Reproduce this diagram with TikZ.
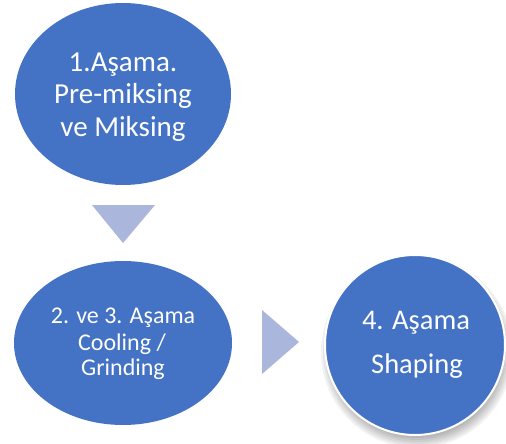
\documentclass[tikz,border=0pt]{standalone}
\usepackage{fontspec}
\setmainfont{Carlito}
\usetikzlibrary{shapes.geometric}
\definecolor{mainblue}{RGB}{68,114,196}
\definecolor{arrowblue}{RGB}{170,182,220}
\begin{document}
\begin{tikzpicture}[x=1pt,y=-1pt,
  stage/.style={fill=mainblue, draw=none, inner sep=0pt},
  lbl/.style={text=white, anchor=base, inner sep=0pt},
  big/.style={font=\fontsize{29}{32}\selectfont},
  mid/.style={font=\fontsize{24}{26}\selectfont},
  arr/.style={fill=arrowblue, draw=none}]
\useasboundingbox (0,0) rectangle (506,444);
\fill[white] (0,0) rectangle (506,444);
% stage 1
\node[stage, ellipse, minimum width=216pt, minimum height=182pt] (s1) at (123,94) {};
\node[lbl, big] (s1a) at (123,72) {1.Aşama.};
\node[lbl, big] (s1b) at (123,103) {Pre-miksing};
\node[lbl, big] (s1c) at (123,136) {ve Miksing};
% stage 2
\node[stage, ellipse, minimum width=218pt, minimum height=164pt] (s2) at (123,343) {};
\node[lbl, mid] (s2a) at (123,323) {2. ve 3. Aşama};
\node[lbl, mid] (s2b) at (122,350) {Cooling /};
\node[lbl, mid] (s2c) at (123,375) {Grinding};
% stage 3 shadow
\foreach \r in {80,82,...,96} {
  \fill[black, opacity=0.05] (417,352) circle (\r pt);
}
\node[stage, circle, minimum size=180pt, draw=white, line width=2pt] (s3) at (415,345) {};
\node[lbl, font=\fontsize{28.5}{30}\selectfont] (s3a) at (416,329) {4. Aşama};
\node[lbl, font=\fontsize{28.5}{30}\selectfont] (s3b) at (417,373) {Shaping};
% arrows
\coordinate (d1) at (92,205);
\coordinate (d2) at (155,205);
\coordinate (d3) at (123,243);
\fill[arr] (d1) -- (d2) -- (d3) -- cycle;
\coordinate (r1) at (262,310);
\coordinate (r2) at (262,374);
\coordinate (r3) at (299,342);
\fill[arr] (r1) -- (r2) -- (r3) -- cycle;
\end{tikzpicture}
\end{document}
